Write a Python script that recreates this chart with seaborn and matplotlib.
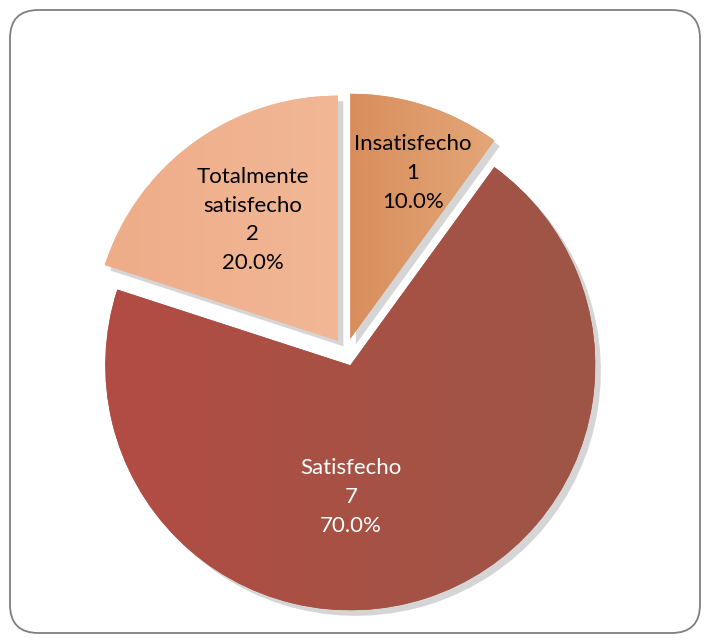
import numpy as np
import matplotlib
matplotlib.use("Agg")
from matplotlib import pyplot as plt
from matplotlib.colors import LinearSegmentedColormap
from matplotlib.patches import FancyBboxPatch
import matplotlib.patheffects as pe
import seaborn as sns

# data
categorias = ["Insatisfecho", "Satisfecho", "Totalmente\nsatisfecho"]
valores = [1, 7, 2]
porcentajes = ["10.0%", "70.0%", "20.0%"]

sns.set_theme(style="white")
plt.rcParams['font.family'] = ['Lato', 'DejaVu Sans']

# colores (izquierda -> derecha) para el degradado de cada porcion
grad_colores = [("#c4672c", "#ecb68c"), ("#b24c44", "#9e5646"), ("#eeac88", "#f5c2a3")]
base_colores = ["#da945e", "#a65245", "#f1b48f"]
texto_colores = ["black", "white", "black"]

fig = plt.figure(figsize=(7.11, 6.43), dpi=100)
ax = fig.add_axes([0, 0, 1, 1])

sombra = [pe.SimplePatchShadow(offset=(4, -4), shadow_rgbFace="#888888", alpha=0.35), pe.Normal()]
wedges, _ = ax.pie(valores, startangle=90, counterclock=False, explode=[0.057] * 3,
                   colors=base_colores, radius=1,
                   wedgeprops=dict(linewidth=0, path_effects=sombra))

grad = np.linspace(0, 1, 256).reshape(1, -1)
for w, (c1, c2) in zip(wedges, grad_colores):
    cmap = LinearSegmentedColormap.from_list("g", [c1, c2])
    cx, cy = w.center
    im = ax.imshow(grad, cmap=cmap, extent=[cx - 1, cx + 1, cy - 1, cy + 1],
                   aspect="auto", zorder=w.get_zorder() + 0.1, interpolation="bilinear")
    im.set_clip_path(w)

# etiquetas
label_pos = [(0.273, 0.731), (0.020, -0.592), (-0.380, 0.539)]
for cat, v, p, (x, y), tc in zip(categorias, valores, porcentajes, label_pos, texto_colores):
    ax.text(x, y, f"{cat}\n{v}\n{p}", ha="center", va="center", fontsize=16,
            color=tc, linespacing=1.55, zorder=10)

# escala: 245 px por unidad, centro en (346, 352) px
ax.set_xlim(-346 / 245, (711 - 346) / 245)
ax.set_ylim(-(643 - 352) / 245, 352 / 245)
ax.set_aspect("auto")
ax.axis("off")

# marco redondeado
marco = FancyBboxPatch((10 / 711, 10 / 643), 690 / 711, 623 / 643,
                       boxstyle="round,pad=0,rounding_size=0.04",
                       transform=fig.transFigure, fill=False,
                       edgecolor="#7f7f7f", linewidth=1.3, mutation_aspect=711 / 643)
fig.patches.append(marco)

fig.savefig("out.png", dpi=100, facecolor="white")
